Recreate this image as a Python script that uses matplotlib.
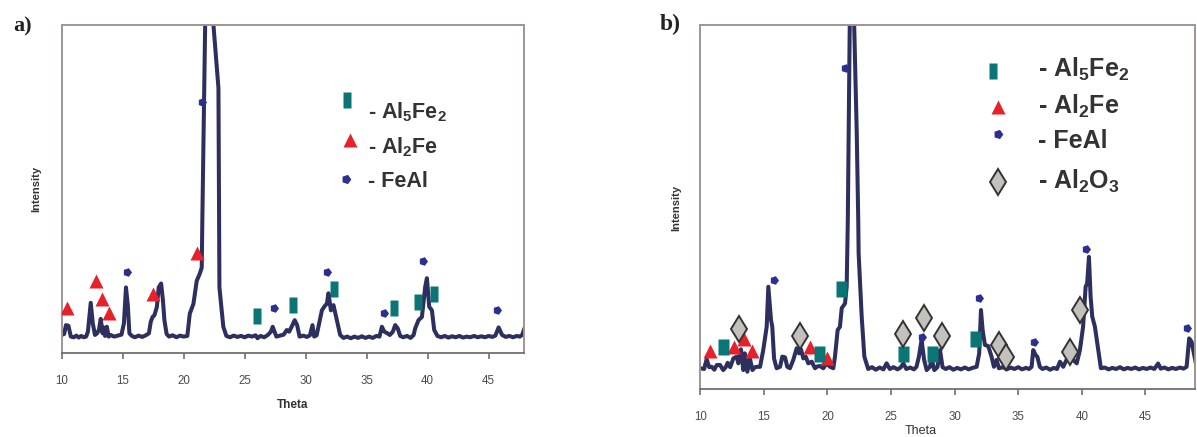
import matplotlib
matplotlib.use("Agg")
import matplotlib.pyplot as plt
from matplotlib.path import Path
import numpy as np

plt.rcParams['font.family'] = ['Liberation Sans', 'DejaVu Sans']
plt.rcParams['mathtext.fontset'] = 'custom'
plt.rcParams['mathtext.rm'] = 'Liberation Sans:bold'
plt.rcParams['mathtext.bf'] = 'Liberation Sans:bold'
plt.rcParams['mathtext.default'] = 'rm'

# ---------------- Data: panel a ----------------
theta_a = [10.0, 10.2, 10.35, 10.55, 10.75, 11.0, 11.2, 11.4, 11.6, 11.8, 12.0, 12.15, 12.38, 12.55, 12.73,
           12.9, 13.05, 13.2, 13.35, 13.45, 13.55, 13.7, 13.85, 14.0, 14.3, 14.6, 14.9, 15.1, 15.27, 15.42,
           15.55, 15.75, 16.0, 16.3, 16.6, 16.9, 17.15, 17.3, 17.45, 17.6, 17.8, 17.95, 18.15, 18.3, 18.42,
           18.6, 18.8, 19.1, 19.4, 19.7, 20.0, 20.3, 20.5, 20.8, 21.07, 21.3, 21.48, 21.53, 21.76, 22.1,
           22.44, 22.85, 22.9, 22.93, 23.25, 23.5, 23.8, 24.1, 24.4, 24.7, 25.0, 25.3, 25.6, 25.9, 26.05,
           26.3, 26.6, 26.9, 27.15, 27.3, 27.45, 27.6, 27.9, 28.2, 28.45, 28.65, 28.85, 29.1, 29.3, 29.5,
           29.8, 30.1, 30.35, 30.56, 30.7, 30.9, 31.05, 31.33, 31.6, 31.74, 31.87, 32.07, 32.28, 32.56, 32.83,
           33.1, 33.4, 33.7, 34.0, 34.3, 34.6, 34.9, 35.2, 35.5, 35.8, 36.05, 36.25, 36.45, 36.7, 36.9,
           37.15, 37.34, 37.55, 37.75, 38.0, 38.3, 38.6, 38.85, 38.98, 39.25, 39.53, 39.8, 39.94, 40.13, 40.35,
           40.54, 40.8, 41.1, 41.4, 41.7, 42.0, 42.3, 42.6, 42.9, 43.2, 43.5, 43.8, 44.1, 44.4, 44.7,
           45.0, 45.3, 45.55, 45.82, 46.1, 46.4, 46.7, 47.0, 47.3, 47.55, 47.75, 47.95]
int_a = [5.5, 5.8, 8.5, 8.3, 5.0, 4.8, 5.3, 4.7, 5.2, 4.8, 5.0, 6.5, 15.3, 9.0, 5.5,
         6.0, 7.0, 10.4, 6.0, 7.8, 5.2, 8.0, 5.0, 5.5, 5.0, 5.3, 5.6, 9.0, 20.0, 14.5,
         6.0, 5.2, 4.8, 5.3, 4.9, 5.4, 6.0, 9.5, 11.0, 11.5, 14.0, 20.0, 21.2, 16.0, 10.0,
         5.8, 5.0, 5.4, 4.8, 5.3, 5.0, 5.2, 12.0, 15.0, 22.0, 24.0, 26.0, 40.5, 100.0, 150.0,
         100.0, 80.8, 44.0, 20.0, 8.0, 5.2, 4.8, 5.3, 4.9, 5.2, 4.8, 5.3, 5.0, 5.4, 4.5,
         5.2, 4.8, 5.5, 6.5, 8.0, 6.5, 5.0, 5.3, 5.6, 7.0, 6.5, 8.0, 10.0, 8.5, 5.0,
         5.3, 4.9, 5.4, 8.5, 5.0, 5.4, 8.0, 13.0, 14.5, 15.0, 18.2, 13.0, 14.6, 10.0, 5.5,
         4.6, 5.0, 4.5, 5.0, 4.6, 5.1, 4.6, 5.0, 4.6, 5.2, 5.0, 8.0, 6.5, 6.0, 5.5,
         6.5, 8.5, 7.5, 5.2, 4.8, 5.2, 4.6, 5.5, 7.5, 10.0, 11.0, 20.2, 22.8, 14.1, 13.0,
         7.0, 5.2, 4.8, 5.2, 4.7, 5.1, 4.8, 5.2, 4.7, 5.0, 4.8, 5.2, 4.8, 5.1, 4.8,
         5.2, 4.9, 5.3, 7.8, 5.5, 4.9, 5.2, 4.8, 5.2, 5.0, 5.5, 7.6]

a_al2fe_t = [10.41, 12.79, 13.33, 13.9, 17.46, 21.1]
a_al2fe_i = [13.6, 22.0, 16.5, 12.1, 18.0, 30.4]
a_feal_t = [21.53, 15.33, 27.44, 31.74, 36.44, 39.61, 45.68]
a_feal_i = [76.6, 24.6, 13.6, 24.6, 12.1, 28.1, 13.1]
a_al5fe2_t = [26.0, 29.0, 32.36, 37.28, 39.25, 40.54]
a_al5fe2_i = [11.4, 14.6, 19.5, 13.6, 15.4, 18.0]

# ---------------- Data: panel b ----------------
theta_b = [10.0, 10.3, 10.5, 10.7, 10.9, 11.1, 11.3, 11.55, 11.8, 12.0, 12.15, 12.35, 12.6, 12.86, 12.99,
           13.2, 13.38, 13.5, 13.7, 13.9, 14.1, 14.3, 14.47, 14.7, 14.95, 15.22, 15.35, 15.56, 15.66, 15.8,
           16.0, 16.27, 16.45, 16.66, 16.84, 17.05, 17.31, 17.58, 17.76, 17.92, 18.1, 18.29, 18.49, 18.76, 19.02,
           19.2, 19.41, 19.67, 19.94, 20.2, 20.46, 20.59, 20.8, 20.98, 21.12, 21.38, 21.51, 21.6, 21.75, 21.9,
           22.1, 22.3, 22.42, 22.45, 22.69, 22.9, 23.2, 23.5, 23.8, 24.1, 24.4, 24.65, 24.9, 25.2, 25.5,
           25.75, 25.96, 26.2, 26.5, 26.8, 27.0, 27.19, 27.4, 27.6, 27.8, 28.06, 28.19, 28.4, 28.65, 28.85,
           29.05, 29.3, 29.6, 29.9, 30.2, 30.5, 30.8, 31.1, 31.4, 31.73, 31.93, 32.07, 32.2, 32.38, 32.64,
           32.9, 33.09, 33.3, 33.48, 33.8, 34.1, 34.4, 34.7, 35.0, 35.3, 35.6, 35.85, 36.05, 36.18, 36.37,
           36.5, 36.7, 36.9, 37.2, 37.5, 37.8, 38.05, 38.28, 38.54, 38.8, 39.0, 39.2, 39.6, 39.85, 40.1,
           40.3, 40.42, 40.56, 40.69, 40.82, 41.03, 41.29, 41.5, 41.8, 42.1, 42.4, 42.7, 43.0, 43.3, 43.6,
           43.9, 44.2, 44.5, 44.8, 45.1, 45.4, 45.7, 46.0, 46.2, 46.5, 46.8, 47.1, 47.4, 47.7, 48.0,
           48.24, 48.44, 48.63, 48.81, 48.97]
int_b = [5.7, 5.5, 8.2, 6.0, 6.1, 5.3, 6.6, 6.6, 5.2, 6.0, 7.2, 6.0, 8.4, 8.9, 7.05,
         10.9, 5.2, 9.8, 4.75, 8.4, 5.2, 6.0, 6.1, 6.1, 10.7, 17.1, 28.1, 19.0, 17.1, 8.4,
         5.7, 6.1, 8.9, 8.7, 6.1, 5.7, 8.0, 11.2, 9.8, 10.9, 8.4, 8.9, 7.05, 7.5, 5.7,
         6.2, 6.3, 5.7, 7.05, 6.1, 5.7, 8.9, 16.2, 17.1, 22.2, 23.5, 28.1, 46.4, 100.0, 110.0,
         100.0, 70.6, 46.4, 37.3, 19.9, 8.9, 5.5, 6.0, 5.3, 5.9, 5.4, 7.05, 5.5, 6.0, 5.4,
         5.9, 7.05, 5.5, 5.9, 5.4, 6.1, 8.9, 13.5, 8.0, 5.2, 6.1, 8.4, 5.2, 6.0, 10.7,
         6.0, 5.5, 6.0, 5.3, 5.8, 5.4, 5.9, 5.4, 5.8, 6.1, 9.8, 21.7, 16.2, 12.1, 11.8,
         8.9, 6.1, 8.0, 5.7, 6.0, 5.4, 5.9, 5.5, 6.0, 5.4, 5.8, 5.5, 6.1, 10.7, 9.3,
         8.9, 6.1, 5.5, 5.9, 5.3, 5.8, 5.5, 7.5, 6.1, 8.0, 8.0, 8.4, 7.05, 10.7, 17.1,
         28.1, 29.0, 36.3, 25.4, 19.9, 17.1, 10.7, 5.7, 5.9, 5.4, 5.8, 5.5, 6.0, 5.4, 5.8,
         5.5, 5.9, 5.4, 5.8, 5.5, 5.9, 5.5, 7.0, 5.6, 5.9, 5.4, 5.8, 5.5, 5.9, 5.6,
         6.1, 13.9, 13.0, 9.8, 7.0]

b_al2fe_t = [10.76, 12.65, 13.44, 14.09, 18.62, 20.0]
b_al2fe_i = [10.4, 11.6, 13.6, 10.4, 11.6, 8.6]
b_al5fe2_t = [11.81, 19.33, 21.06, 25.96, 28.19, 31.6]
b_al5fe2_i = [11.6, 9.5, 27.6, 9.5, 9.5, 13.6]
b_feal_t = [21.38, 15.8, 27.4, 31.93, 36.26, 40.3, 48.24]
b_feal_i = [88.1, 29.9, 14.4, 24.9, 13.0, 38.4, 16.7]
b_al2o3_t = [13.04, 17.84, 25.91, 27.59, 29.03, 33.5, 34.03, 39.06, 39.85]
b_al2o3_i = [16.4, 14.6, 15.1, 19.6, 14.6, 12.2, 8.7, 10.2, 21.7]

xticks = [10, 15, 20, 25, 30, 35, 40, 45]
labels_a = [r"- Al$_5$Fe$_2$", r"- Al$_2$Fe", "- FeAl"]
labels_b = [r"- Al$_5$Fe$_2$", r"- Al$_2$Fe", "- FeAl", r"- Al$_2$O$_3$"]

# ---------------- Styles ----------------
LINE_C = '#2d2f5f'
RED = '#e8202a'
TEAL = '#0b7575'
BLUE = '#2b2f8f'
DIAM_F = '#c4c0bc'
DIAM_E = '#333333'
FRAME = '#a0958f'
TXT = '#333333'

rect_tall = Path([(-0.25, -0.5), (0.25, -0.5), (0.25, 0.5), (-0.25, 0.5), (-0.25, -0.5)],
                 [Path.MOVETO, Path.LINETO, Path.LINETO, Path.LINETO, Path.CLOSEPOLY])
rect_b = Path([(-0.36, -0.5), (0.36, -0.5), (0.36, 0.5), (-0.36, 0.5), (-0.36, -0.5)],
              [Path.MOVETO, Path.LINETO, Path.LINETO, Path.LINETO, Path.CLOSEPOLY])
blob = (5, 0, -90)

fig = plt.figure(figsize=(11.97, 4.37), dpi=100)
ax_a = fig.add_axes([61.7 / 1197, 1 - 353 / 437, (524 - 61.7) / 1197, (353 - 25) / 437])
ax_b = fig.add_axes([700.3 / 1197, 1 - 389 / 437, (1195 - 700.3) / 1197, (389 - 25) / 437])


def style_axes(ax, xmax):
    ax.set_xlim(10, xmax)
    ax.set_ylim(0, 100)
    ax.set_yticks([])
    ax.set_xticks(xticks)
    for s in ['left', 'top', 'right']:
        ax.spines[s].set_color(FRAME)
        ax.spines[s].set_linewidth(1.4)
    ax.spines['bottom'].set_color('#707070')
    ax.spines['bottom'].set_linewidth(1.3)
    ax.tick_params(axis='x', direction='out', length=4, width=1.2, color='#707070',
                   labelsize=8.3, labelcolor='#4a4a4a', pad=11.5)


# Panel a
style_axes(ax_a, 47.9)
ax_a.plot(theta_a, int_a, color=LINE_C, lw=2.9, solid_joinstyle='round', zorder=2)
ax_a.plot(a_al2fe_t, a_al2fe_i, ls='none', marker='^', ms=10, color=RED, mec='none', zorder=3)
ax_a.plot(a_feal_t, a_feal_i, ls='none', marker=blob, ms=6.5, color=BLUE, mec='none', zorder=3)
ax_a.plot(a_al5fe2_t, a_al5fe2_i, ls='none', marker=rect_tall, ms=12, color=TEAL, mec='none', zorder=3)

# legend a
ax_a.plot([0.6165], [0.771], transform=ax_a.transAxes, marker=rect_tall, ms=11, color=TEAL, mec='none', ls='none')
ax_a.plot([0.6236], [0.649], transform=ax_a.transAxes, marker='^', ms=9.5, color=RED, mec='none', ls='none')
ax_a.plot([0.6143], [0.530], transform=ax_a.transAxes, marker=blob, ms=7, color=BLUE, mec='none', ls='none')
for lab, yb in zip(labels_a, [0.7155, 0.609, 0.507]):
    ax_a.text(0.663, yb, lab, transform=ax_a.transAxes, fontsize=15.5, fontweight='bold',
              color=TXT, va='baseline', ha='left')

# Panel b
style_axes(ax_b, 48.9)
ax_b.plot(theta_b, int_b, color=LINE_C, lw=2.9, solid_joinstyle='round', zorder=2)
ax_b.plot(b_al2fe_t, b_al2fe_i, ls='none', marker='^', ms=10, color=RED, mec='none', zorder=3)
ax_b.plot(b_al5fe2_t, b_al5fe2_i, ls='none', marker=rect_b, ms=11, color=TEAL, mec='none', zorder=3)
ax_b.plot(b_feal_t, b_feal_i, ls='none', marker=blob, ms=6.5, color=BLUE, mec='none', zorder=3)
ax_b.plot(b_al2o3_t, b_al2o3_i, ls='none', marker='d', ms=13, mfc=DIAM_F, mec=DIAM_E, mew=1.4, zorder=3)

# legend b
ax_b.plot([0.592], [0.874], transform=ax_b.transAxes, marker=rect_tall, ms=11, color=TEAL, mec='none', ls='none')
ax_b.plot([0.601], [0.774], transform=ax_b.transAxes, marker='^', ms=10.5, color=RED, mec='none', ls='none')
ax_b.plot([0.602], [0.700], transform=ax_b.transAxes, marker=blob, ms=7, color=BLUE, mec='none', ls='none')
ax_b.plot([0.602], [0.5695], transform=ax_b.transAxes, marker='d', ms=13, mfc=DIAM_F, mec=DIAM_E, mew=1.4, ls='none')
for lab, yb in zip(labels_b, [0.858, 0.757, 0.661, 0.551]):
    ax_b.text(0.683, yb, lab, transform=ax_b.transAxes, fontsize=18, fontweight='bold',
              color=TXT, va='baseline', ha='left')

# axis labels
fig.text(292.8 / 1197, 1 - 404.5 / 437, "Theta", fontsize=8.5, fontweight='bold', color=TXT,
         ha='center', va='center')
fig.text(921 / 1197, 1 - 431.5 / 437, "Theta", fontsize=9, color=TXT, ha='center', va='center')
fig.text(36.7 / 1197, 1 - 189 / 437, "Intensity", fontsize=8, fontweight='bold', color=TXT,
         rotation=90, ha='center', va='center')
fig.text(676.7 / 1197, 1 - 207.5 / 437, "Intensity", fontsize=8, fontweight='bold', color=TXT,
         rotation=90, ha='center', va='center')

# panel letters
fig.text(22.5 / 1197, 1 - 26 / 437, "a)", fontsize=16, fontweight='bold', family='Liberation Serif',
         color='#222222', ha='center', va='center')
fig.text(670 / 1197, 1 - 24 / 437, "b)", fontsize=17, fontweight='bold', family='Liberation Serif',
         color='#222222', ha='center', va='center')

fig.savefig("out.png", dpi=100)
